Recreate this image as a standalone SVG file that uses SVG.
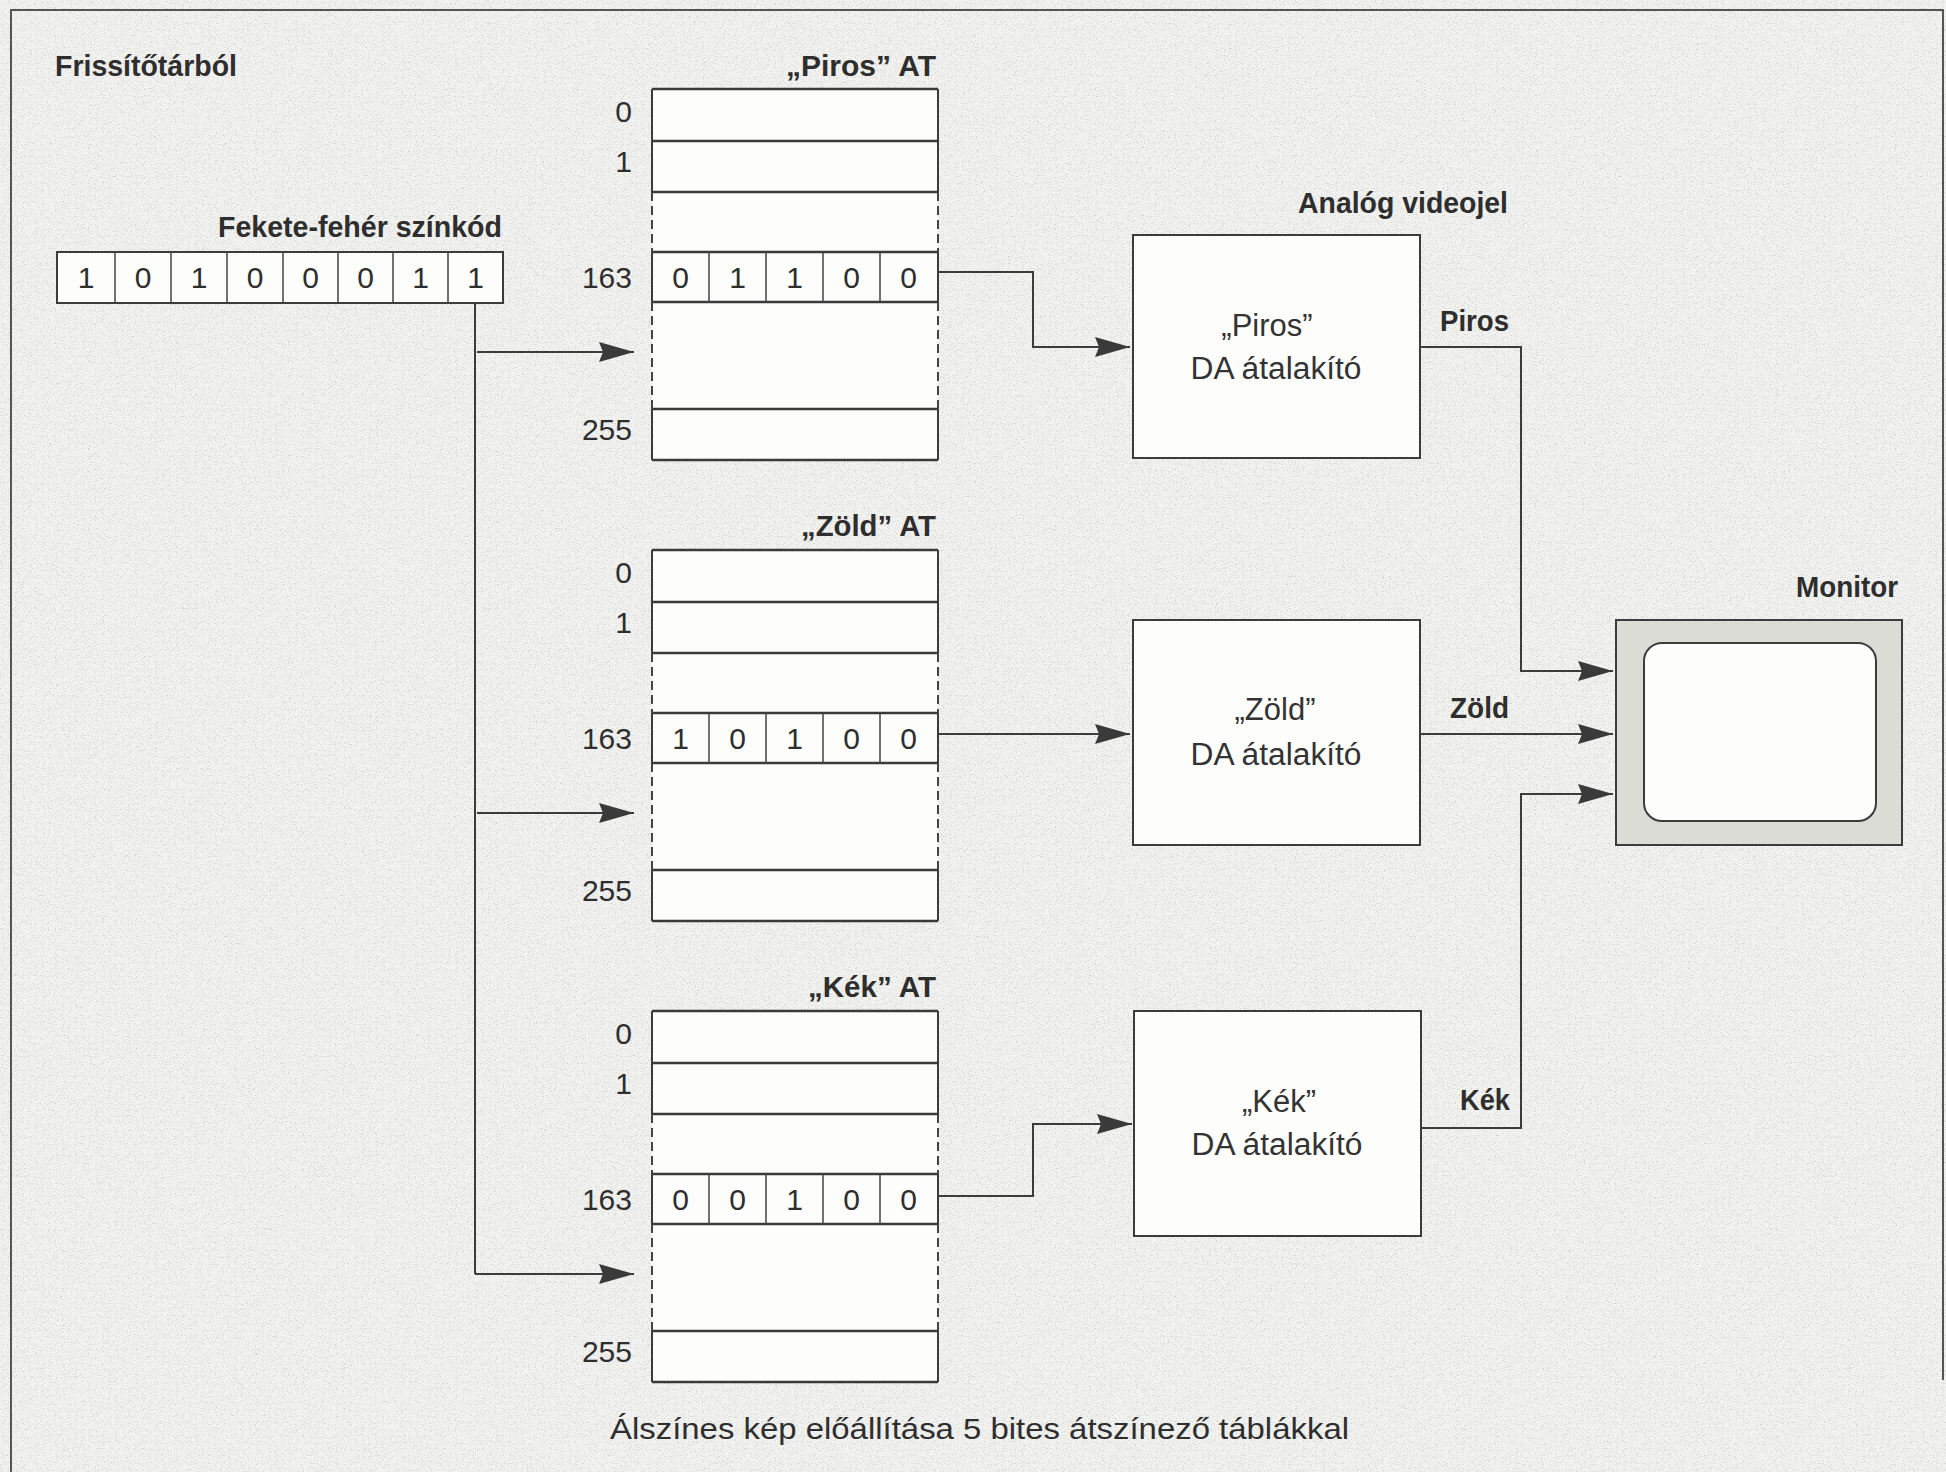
<svg xmlns="http://www.w3.org/2000/svg" width="1946" height="1472" viewBox="0 0 1946 1472">
<style>
  text { font-family: "Liberation Sans", Arial, sans-serif; fill: #2e2e2e; }
  .b { font-weight: bold; font-size: 30px; }
  .r { font-size: 30px; }
  .lbl { font-size: 30px; text-anchor: end; }
  .dg { font-size: 30px; text-anchor: middle; }
  .da { font-size: 31px; text-anchor: middle; fill: #333; }
  .ln { stroke: #3c3c3c; stroke-width: 2; fill: none; }
  .hl { stroke: #3a3a3a; stroke-width: 2.5; fill: none; }
  .thin { stroke: #444; stroke-width: 1.5; fill: none; }
  .dash { stroke: #444; stroke-width: 2; fill: none; stroke-dasharray: 9 5; }
  .wb { fill: #fdfdfc; }
  .box { fill: #fdfdfc; stroke: #3c3c3c; stroke-width: 2; }
</style>
<defs>
  <marker id="arr" markerUnits="userSpaceOnUse" markerWidth="36" markerHeight="22" refX="35" refY="10" orient="auto">
    <path d="M0,0 L35,10 L0,20 L4,10 z" fill="#3a3a3a"/>
  </marker>
  <filter id="speckle" x="0" y="0" width="100%" height="100%">
    <feTurbulence type="fractalNoise" baseFrequency="0.85" numOctaves="2" seed="7" result="n"/>
    <feColorMatrix in="n" type="matrix" values="0 0 0 0 0.55  0 0 0 0 0.55  0 0 0 0 0.53  3.5 0 0 0 -1.85"/>
  </filter>
</defs>

<g id="background">
  <rect x="0" y="0" width="1946" height="1472" fill="#f2f2f0"/>
  <rect x="0" y="0" width="1946" height="1472" filter="url(#speckle)" opacity="0.8"/>
  <path d="M11,1472 V10 H1943 V1380" stroke="#555" stroke-width="2" fill="none"/>
</g>

<g id="label-frissitotarbol">
  <text class="b" x="55" y="76" textLength="182" lengthAdjust="spacingAndGlyphs">Frissítőtárból</text>
</g>

<g id="bitcode">
  <text class="b" x="218" y="237" textLength="284" lengthAdjust="spacingAndGlyphs">Fekete-fehér színkód</text>
  <rect class="box" x="57" y="252" width="446" height="51"/>
  <path class="thin" d="M115,252 V303 M171,252 V303 M227,252 V303 M283,252 V303 M338,252 V303 M393,252 V303 M448,252 V303"/>
  <text class="dg" x="86" y="288">1</text>
  <text class="dg" x="143" y="288">0</text>
  <text class="dg" x="199" y="288">1</text>
  <text class="dg" x="255" y="288">0</text>
  <text class="dg" x="310.5" y="288">0</text>
  <text class="dg" x="365.5" y="288">0</text>
  <text class="dg" x="420.5" y="288">1</text>
  <text class="dg" x="475.5" y="288">1</text>
</g>

<g id="table-piros" transform="translate(0,89)">
  <text class="b" x="936" y="-13" text-anchor="end" textLength="150" lengthAdjust="spacingAndGlyphs">„Piros” AT</text>
  <rect class="wb" x="652" y="0" width="286" height="371"/>
  <path class="hl" d="M652,0 H938 M652,52 H938 M652,103 H938 M652,163 H938 M652,213 H938 M652,320 H938 M652,371 H938"/>
  <path class="ln" d="M652,0 V103 M938,0 V103 M652,163 V213 M938,163 V213 M652,320 V371 M938,320 V371"/>
  <path class="dash" d="M652,103 V163 M938,103 V163 M652,213 V320 M938,213 V320"/>
  <path class="thin" d="M709,163 V213 M766,163 V213 M823,163 V213 M880,163 V213"/>
  <text class="lbl" x="632" y="33">0</text>
  <text class="lbl" x="632" y="83">1</text>
  <text class="lbl" x="632" y="199">163</text>
  <text class="lbl" x="632" y="351">255</text>
  <text class="dg" x="680.5" y="199">0</text>
  <text class="dg" x="737.5" y="199">1</text>
  <text class="dg" x="794.5" y="199">1</text>
  <text class="dg" x="851.5" y="199">0</text>
  <text class="dg" x="908.5" y="199">0</text>
</g>

<g id="table-zold" transform="translate(0,550)">
  <text class="b" x="936" y="-14" text-anchor="end" textLength="135" lengthAdjust="spacingAndGlyphs">„Zöld” AT</text>
  <rect class="wb" x="652" y="0" width="286" height="371"/>
  <path class="hl" d="M652,0 H938 M652,52 H938 M652,103 H938 M652,163 H938 M652,213 H938 M652,320 H938 M652,371 H938"/>
  <path class="ln" d="M652,0 V103 M938,0 V103 M652,163 V213 M938,163 V213 M652,320 V371 M938,320 V371"/>
  <path class="dash" d="M652,103 V163 M938,103 V163 M652,213 V320 M938,213 V320"/>
  <path class="thin" d="M709,163 V213 M766,163 V213 M823,163 V213 M880,163 V213"/>
  <text class="lbl" x="632" y="33">0</text>
  <text class="lbl" x="632" y="83">1</text>
  <text class="lbl" x="632" y="199">163</text>
  <text class="lbl" x="632" y="351">255</text>
  <text class="dg" x="680.5" y="199">1</text>
  <text class="dg" x="737.5" y="199">0</text>
  <text class="dg" x="794.5" y="199">1</text>
  <text class="dg" x="851.5" y="199">0</text>
  <text class="dg" x="908.5" y="199">0</text>
</g>

<g id="table-kek" transform="translate(0,1011)">
  <text class="b" x="936" y="-14" text-anchor="end" textLength="128" lengthAdjust="spacingAndGlyphs">„Kék” AT</text>
  <rect class="wb" x="652" y="0" width="286" height="371"/>
  <path class="hl" d="M652,0 H938 M652,52 H938 M652,103 H938 M652,163 H938 M652,213 H938 M652,320 H938 M652,371 H938"/>
  <path class="ln" d="M652,0 V103 M938,0 V103 M652,163 V213 M938,163 V213 M652,320 V371 M938,320 V371"/>
  <path class="dash" d="M652,103 V163 M938,103 V163 M652,213 V320 M938,213 V320"/>
  <path class="thin" d="M709,163 V213 M766,163 V213 M823,163 V213 M880,163 V213"/>
  <text class="lbl" x="632" y="33">0</text>
  <text class="lbl" x="632" y="83">1</text>
  <text class="lbl" x="632" y="199">163</text>
  <text class="lbl" x="632" y="351">255</text>
  <text class="dg" x="680.5" y="199">0</text>
  <text class="dg" x="737.5" y="199">0</text>
  <text class="dg" x="794.5" y="199">1</text>
  <text class="dg" x="851.5" y="199">0</text>
  <text class="dg" x="908.5" y="199">0</text>
</g>

<g id="label-analog">
  <text class="b" x="1298" y="213" textLength="210" lengthAdjust="spacingAndGlyphs">Analóg videojel</text>
</g>

<g id="da-piros">
  <rect class="box" x="1133" y="235" width="287" height="223"/>
  <text class="da" x="1267" y="336">„Piros”</text>
  <text class="da" x="1276" y="379" textLength="171" lengthAdjust="spacingAndGlyphs">DA átalakító</text>
</g>
<g id="da-zold">
  <rect class="box" x="1133" y="620" width="287" height="225"/>
  <text class="da" x="1275" y="720">„Zöld”</text>
  <text class="da" x="1276" y="765" textLength="171" lengthAdjust="spacingAndGlyphs">DA átalakító</text>
</g>
<g id="da-kek">
  <rect class="box" x="1134" y="1011" width="287" height="225"/>
  <text class="da" x="1279" y="1112">„Kék”</text>
  <text class="da" x="1277" y="1155" textLength="171" lengthAdjust="spacingAndGlyphs">DA átalakító</text>
</g>

<g id="monitor">
  <text class="b" x="1898" y="597" text-anchor="end" textLength="102" lengthAdjust="spacingAndGlyphs">Monitor</text>
  <rect x="1616" y="620" width="286" height="225" fill="#dcdcd6" stroke="#3c3c3c" stroke-width="2"/>
  <rect x="1644" y="643" width="232" height="178" rx="18" ry="18" fill="#fdfdfc" stroke="#3c3c3c" stroke-width="2"/>
</g>

<g id="signal-labels">
  <text class="b" x="1509" y="331" text-anchor="end" textLength="69" lengthAdjust="spacingAndGlyphs">Piros</text>
  <text class="b" x="1509" y="718" text-anchor="end" textLength="59" lengthAdjust="spacingAndGlyphs">Zöld</text>
  <text class="b" x="1510" y="1110" text-anchor="end" textLength="50" lengthAdjust="spacingAndGlyphs">Kék</text>
</g>

<g id="connectors">
  <path class="ln" d="M475,303 V1274"/>
  <path class="ln" d="M477,352 H634" marker-end="url(#arr)"/>
  <path class="ln" d="M477,813 H634" marker-end="url(#arr)"/>
  <path class="ln" d="M475,1274 H634" marker-end="url(#arr)"/>
  <path class="ln" d="M938,272 H1033 V347 H1130" marker-end="url(#arr)"/>
  <path class="ln" d="M938,734 H1130" marker-end="url(#arr)"/>
  <path class="ln" d="M938,1196 H1033 V1124 H1132" marker-end="url(#arr)"/>
  <path class="ln" d="M1420,347 H1521 V671 H1613" marker-end="url(#arr)"/>
  <path class="ln" d="M1420,734 H1613" marker-end="url(#arr)"/>
  <path class="ln" d="M1421,1128 H1521 V794 H1613" marker-end="url(#arr)"/>
</g>

<g id="caption">
  <text class="r" x="610" y="1439" textLength="739" lengthAdjust="spacingAndGlyphs">Álszínes kép előállítása 5 bites átszínező táblákkal</text>
</g>
</svg>
